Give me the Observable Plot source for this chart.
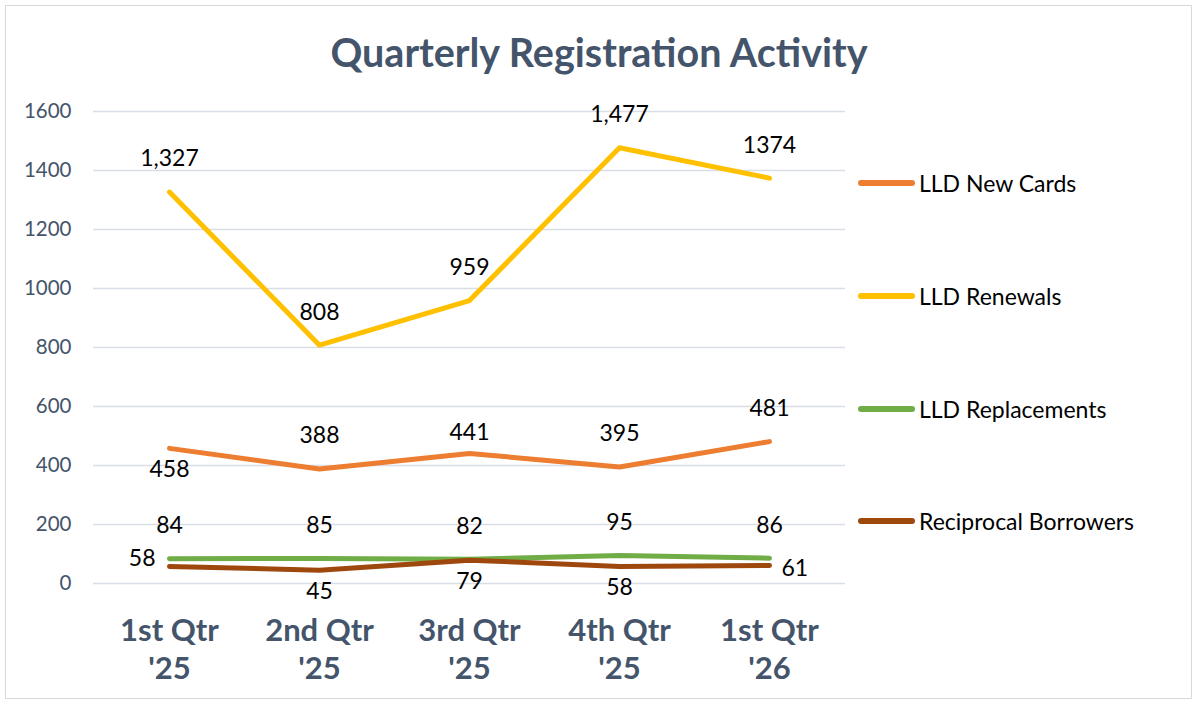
<!DOCTYPE html>
<html>
<head>
<meta charset="utf-8">
<script src="https://cdn.jsdelivr.net/npm/d3@7"></script>
<script src="https://cdn.jsdelivr.net/npm/@observablehq/plot@0.6"></script>
<style>
  html, body { margin: 0; padding: 0; background: #fff; }
  #wrap { position: relative; width: 1198px; height: 705px; font-family: Lato, "Open Sans", sans-serif; }
  #border { position: absolute; left: 5px; top: 5px; width: 1187px; height: 694px; border: 1px solid #d9d9d9; box-sizing: border-box; }
  #title { position: absolute; left: 0; width: 1198px; top: 28px; text-align: center; font-size: 39.5px; font-weight: 700; color: #44546A; }
  #chart { position: absolute; left: 0; top: 0; }
  .leg { position: absolute; left: 858px; display: flex; align-items: center; font-size: 23px; color: #000; }
  .sw { width: 57px; height: 6px; border-radius: 3px; margin-right: 4px; }
</style>
</head>
<body>
<div id="wrap">
  <div id="border"></div>
  <div id="chart"></div>
  <div id="title">Quarterly Registration Activity</div>
  <div id="legend"></div>
</div>
<script>
const categories = ["1st Qtr\n'25", "2nd Qtr\n'25", "3rd Qtr\n'25", "4th Qtr\n'25", "1st Qtr\n'26"];
const seriesNames = ["LLD New Cards", "LLD Renewals", "LLD Replacements", "Reciprocal Borrowers"];
const seriesColors = ["#ED7D31", "#FFC000", "#70AD47", "#9E480E"];
const newCards = [458, 388, 441, 395, 481];
const renewals = [1327, 808, 959, 1477, 1374];
const replacements = [84, 85, 82, 95, 86];
const reciprocal = [58, 45, 79, 58, 61];
const newCardsLabels = ["458", "388", "441", "395", "481"];
const renewalsLabels = ["1,327", "808", "959", "1,477", "1374"];
const replacementsLabels = ["84", "85", "82", "95", "86"];
const reciprocalLabels = ["58", "45", "79", "58", "61"];
const newCardsPlacement = ["below", "above", "near", "above", "above"];
const renewalsPlacement = ["above", "above", "above", "above", "above"];
const replacementsPlacement = ["above", "above", "above", "above", "above"];
const reciprocalPlacement = ["left", "below", "below", "below", "right"];
const yTicks = [0, 200, 400, 600, 800, 1000, 1200, 1400, 1600];

const allValues = [newCards, renewals, replacements, reciprocal];
const allLabels = [newCardsLabels, renewalsLabels, replacementsLabels, reciprocalLabels];
const allPlacement = [newCardsPlacement, renewalsPlacement, replacementsPlacement, reciprocalPlacement];

const rows = [];
seriesNames.forEach((s, i) => {
  categories.forEach((c, j) => {
    rows.push({series: s, cat: c, value: allValues[i][j], label: allLabels[i][j], pos: allPlacement[i][j]});
  });
});

const placements = {
  above: {dy: -33, dx: 0, textAnchor: "middle"},
  near: {dy: -21, dx: 0, textAnchor: "middle"},
  below: {dy: 21, dx: 0, textAnchor: "middle"},
  left: {dy: -8, dx: -14, textAnchor: "end"},
  right: {dy: 3, dx: 12, textAnchor: "start"}
};

const textMarks = Object.entries(placements).map(([p, o]) =>
  Plot.text(rows.filter(d => d.pos === p), {
    x: "cat", y: "value", text: "label",
    dx: o.dx, dy: o.dy, textAnchor: o.textAnchor,
    fontSize: 23, fill: "#000"
  })
);

const chart = Plot.plot({
  width: 1198,
  height: 705,
  marginLeft: 93,
  marginRight: 353,
  marginTop: 111,
  marginBottom: 122,
  style: {fontFamily: "Lato, 'Open Sans', sans-serif", background: "transparent"},
  x: {type: "point", domain: categories, padding: 0.5},
  y: {domain: [0, 1600]},
  color: {domain: seriesNames, range: seriesColors},
  marks: [
    Plot.gridY(yTicks, {stroke: "#d9dde5", strokeOpacity: 1, strokeWidth: 1.5}),
    Plot.axisY(yTicks, {tickSize: 0, tickPadding: 22, fontSize: 20.5, fill: "#44546A", label: null, tickFormat: d => String(d)}),
    Plot.axisX({tickSize: 0, tickPadding: 30, fontSize: 31, fontWeight: 700, fill: "#44546A", lineHeight: 1.23, label: null}),
    Plot.line(rows, {x: "cat", y: "value", z: "series", stroke: "series", strokeWidth: 5, strokeLinecap: "round", strokeLinejoin: "round"}),
    ...textMarks
  ]
});
document.getElementById("chart").appendChild(chart);

const legendY = [183, 296, 409, 521];
const legend = document.getElementById("legend");
seriesNames.forEach((s, i) => {
  const d = document.createElement("div");
  d.className = "leg";
  d.style.top = (legendY[i] - 14) + "px";
  d.style.height = "28px";
  d.innerHTML = `<div class="sw" style="background:${seriesColors[i]}"></div><span>${s}</span>`;
  legend.appendChild(d);
});
</script>
</body>
</html>
